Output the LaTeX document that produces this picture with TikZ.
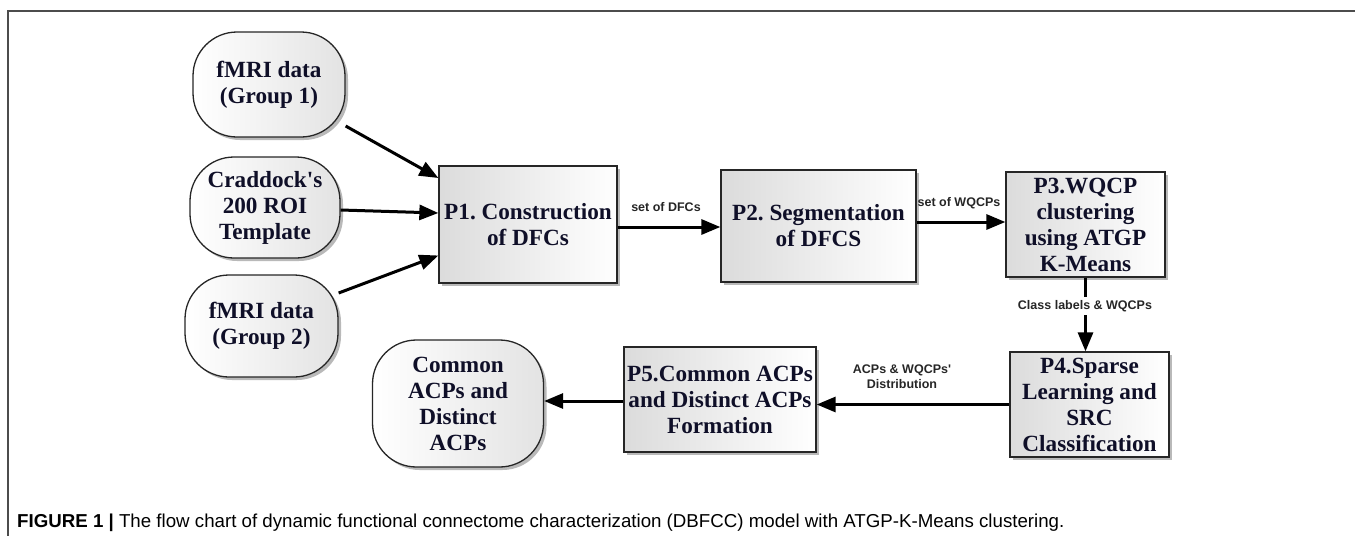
\documentclass[tikz,border=0pt]{standalone}
\usepackage{fontspec}
\setmainfont{Liberation Serif}
\setsansfont{Liberation Sans}
\usetikzlibrary{arrows.meta,shadows,calc}
\definecolor{textc}{RGB}{15,15,40}
\newcommand\mynodefont{\fontsize{23.2}{26}\selectfont\bfseries\frenchspacing}
\newcommand\mylabfont{\sffamily\bfseries\fontsize{12.5}{15}\selectfont}
\begin{document}
\begin{tikzpicture}[x=1pt,y=-1pt,
  frame/.style={draw=black!70, line width=1.6pt},
  proc/.style={draw=black!85, line width=1.3pt, rectangle, inner sep=1pt,
    align=center, font=\mynodefont, text=textc,
    left color=gray!28, right color=white,
    drop shadow={shadow xshift=3pt, shadow yshift=-3pt, fill=gray!55, opacity=1}},
  term/.style={draw=black!85, line width=1.3pt, rectangle, rounded corners=44pt,
    inner sep=1pt, align=center, font=\mynodefont, text=textc,
    left color=white, right color=gray!22,
    drop shadow={shadow xshift=3pt, shadow yshift=-3pt, fill=gray!55, opacity=1}},
  flow/.style={draw=black, line width=3pt, -{Triangle[length=19pt,width=15pt]}},
  lab/.style={font=\mylabfont, text=black!85, inner sep=1pt, align=center}
]
\useasboundingbox (0,0) rectangle (1355,536);
\draw[frame] (1355,11) -- (8,11) -- (8,536);

\node[term, minimum width=152pt, minimum height=105pt] (g1) at (269,84.5) {fMRI data\\(Group 1)};
\node[term, minimum width=150pt, minimum height=101pt] (crad) at (265,207.5) {Craddock\textquotesingle s\\200 ROI\\Template};
\node[term, minimum width=153pt, minimum height=102pt] (g2) at (261.5,326) {fMRI data\\(Group 2)};
\node[proc, minimum width=178pt, minimum height=117pt] (p1) at (528,224.5) {P1. Construction\\of DFCs};
\node[proc, minimum width=195pt, minimum height=112pt] (p2) at (818.5,226) {P2. Segmentation\\of DFCS};
\node[proc, minimum width=159pt, minimum height=105pt] (p3) at (1085.5,224.5) {P3.WQCP\\clustering\\using ATGP\\K-Means};
\node[proc, minimum width=159pt, minimum height=105pt] (p4) at (1089.5,404.5) {P4.Sparse\\Learning and\\SRC\\Classification};
\node[proc, minimum width=192pt, minimum height=105pt] (p5) at (720,399.5) {P5.Common ACPs\\and Distinct ACPs\\Formation};
\node[term, minimum width=171pt, minimum height=127pt] (com) at (458,403.5) {Common\\ACPs and\\Distinct\\ACPs};

\draw[flow] ($(g1.east)+(0,41.5)$) -- ($(p1.west)+(0,-46.5)$);
\draw[flow] ($(crad.east)+(0,2.5)$) -- ($(p1.west)+(0,-11.5)$);
\draw[flow] ($(g2.east)+(0,-33)$) -- ($(p1.west)+(0,31)$);
\draw[flow] ($(p1.east)+(0,2.5)$) -- ($(p2.west)+(0,1)$);
\draw[flow] ($(p2.east)+(0,-4)$) -- ($(p3.west)+(0,-2.5)$);
\draw[flow] (p3.south) -- ($(p4.north)+(-4,0)$);
\draw[flow] (p4.west) -- ($(p5.east)+(0,5)$);
\draw[flow] ($(p5.west)+(0,1.5)$) -- ($(com.east)+(0,-2.5)$);

\node[lab] (l1) at (666,207) {set of DFCs};
\node[lab] (l2) at (959,203) {set of WQCPs};
\node[lab, fill=white, inner ysep=3pt] (l3) at (1085,306) {Class labels \& WQCPs};
\node[lab] (l4) at (902,377) {ACPs \& WQCPs\textquotesingle\\Distribution};

\node[anchor=base west, inner sep=0pt, font=\sffamily\fontsize{18.7}{22}\selectfont] (cap) at (17,527)
  {\textbf{FIGURE 1 |} The flow chart of dynamic functional connectome characterization (DBFCC) model with ATGP-K-Means clustering.};
\end{tikzpicture}
\end{document}
